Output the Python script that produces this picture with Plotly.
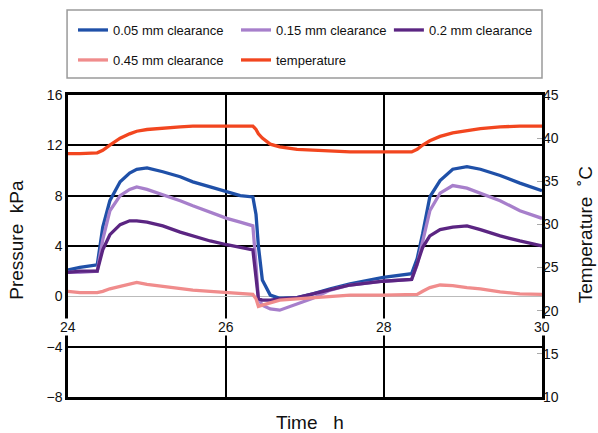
import plotly.graph_objects as go

# Elapsed time (h)
time_h = [24.00, 24.15, 24.37, 24.44, 24.53, 24.66, 24.78, 24.87, 25.00, 25.20,
          25.42, 25.58, 25.80, 26.01, 26.18, 26.34, 26.38, 26.41, 26.46, 26.56,
          26.68, 26.90, 27.10, 27.32, 27.57, 27.99, 28.35, 28.42, 28.49, 28.58,
          28.71, 28.87, 29.05, 29.22, 29.47, 29.72, 30.00]

# Pressure (kPa) for each clearance
p_005 = [2.1, 2.3, 2.5, 5.5, 7.6, 9.1, 9.8, 10.1, 10.2, 9.9,
         9.5, 9.1, 8.7, 8.3, 8.0, 7.9, 6.5, 4.0, 1.3, 0.1,
         -0.15, -0.1, 0.2, 0.6, 1.0, 1.5, 1.8, 3.0, 5.0, 7.9,
         9.2, 10.1, 10.3, 10.1, 9.6, 9.0, 8.4]
p_015 = [1.9, 1.9, 2.0, 4.5, 6.8, 8.0, 8.5, 8.7, 8.5, 8.1,
         7.6, 7.2, 6.7, 6.2, 5.9, 5.6, 2.5, -0.2, -0.7, -1.0,
         -1.1, -0.6, -0.15, 0.5, 0.9, 1.2, 1.35, 2.5, 4.5, 6.8,
         8.2, 8.8, 8.6, 8.2, 7.6, 6.8, 6.2]
p_020 = [1.9, 2.0, 2.0, 3.7, 4.9, 5.7, 6.0, 6.0, 5.9, 5.6,
         5.1, 4.8, 4.4, 4.1, 3.9, 3.7, 1.5, -0.2, -0.3, -0.3,
         -0.2, -0.1, 0.2, 0.5, 0.9, 1.2, 1.35, 2.6, 3.9, 4.8,
         5.3, 5.5, 5.6, 5.3, 4.8, 4.4, 4.0]
p_045 = [0.4, 0.3, 0.3, 0.4, 0.6, 0.8, 1.0, 1.1, 0.95, 0.8,
         0.6, 0.5, 0.4, 0.3, 0.2, 0.15, -0.2, -0.8, -0.7, -0.5,
         -0.3, -0.2, -0.1, 0.0, 0.1, 0.1, 0.1, 0.15, 0.4, 0.7,
         0.9, 0.85, 0.7, 0.6, 0.35, 0.2, 0.15]

# Temperature (deg C)
temp_c = [38.2, 38.2, 38.3, 38.6, 39.2, 40.0, 40.5, 40.8, 41.0, 41.1,
          41.3, 41.4, 41.4, 41.4, 41.4, 41.4, 41.0, 40.5, 40.0, 39.3,
          39.0, 38.7, 38.6, 38.5, 38.4, 38.4, 38.4, 38.7, 39.2, 39.7,
          40.2, 40.6, 40.9, 41.1, 41.3, 41.4, 41.4]

series_names = ["0.05 mm clearance", "0.15 mm clearance", "0.2 mm clearance",
                "0.45 mm clearance", "temperature"]
series_colors = ["#1f50a8", "#a77fcb", "#5b2582", "#f08c8c", "#f2461f"]

x_ticks = [24, 26, 28, 30]

FONT = "Liberation Sans, Arial, sans-serif"

# one legend slot per series: (paper x, paper y) of the entry
legend_ids = ["legend", "legend2", "legend3", "legend4", "legend5"]
legend_slots = [(0.0105, 1.2152), (0.3544, 1.2152), (0.677, 1.2152),
                (0.0105, 1.1159), (0.3544, 1.1159)]

fig = go.Figure()
pressure_sets = [p_005, p_015, p_020, p_045]
for i, vals in enumerate(pressure_sets):
    fig.add_trace(go.Scatter(
        x=time_h, y=vals, mode="lines", name=series_names[i],
        line=dict(color=series_colors[i], width=3.3),
        legend=legend_ids[i],
    ))
fig.add_trace(go.Scatter(
    x=time_h, y=temp_c, mode="lines", name=series_names[4],
    line=dict(color=series_colors[4], width=3.3),
    yaxis="y2", legend=legend_ids[4],
))

# x tick labels sit just under the zero-pressure line
for t in x_ticks:
    fig.add_annotation(x=t, y=-2.4, xref="x", yref="y", text=str(t),
                       showarrow=False, bgcolor="white",
                       font=dict(size=14, color="#111", family=FONT),
                       borderpad=0)

# axis titles
title_font = dict(size=19, color="#111", family=FONT)
fig.add_annotation(x=-0.108, y=0.52, xref="paper", yref="paper",
                   xanchor="center", yanchor="middle",
                   text="Pressure\u00a0\u00a0kPa", textangle=-90, showarrow=False,
                   font=title_font)
fig.add_annotation(x=1.091, y=0.536, xref="paper", yref="paper",
                   xanchor="center", yanchor="middle",
                   text="Temperature\u00a0\u00a0\u02daC", textangle=-90, showarrow=False,
                   font=title_font)
fig.add_annotation(x=0.51, y=-0.086, xref="paper", yref="paper",
                   xanchor="center", yanchor="middle",
                   text="Time\u00a0\u00a0\u00a0h", showarrow=False,
                   font=title_font)

# legend frame
fig.add_shape(type="rect", xref="paper", yref="paper",
              x0=-0.002, x1=1.0, y0=1.056, y1=1.2815,
              line=dict(color="#9a9a9a", width=1.5), fillcolor="rgba(0,0,0,0)")

legend_common = dict(orientation="h", xanchor="left", yanchor="middle",
                     bgcolor="rgba(0,0,0,0)", borderwidth=0,
                     font=dict(size=13, color="#111", family=FONT),
                     itemclick=False, itemdoubleclick=False)
legend_layout = {lid: dict(x=sx, y=sy, **legend_common)
                 for lid, (sx, sy) in zip(legend_ids, legend_slots)}

fig.update_layout(
    width=598, height=433,
    margin=dict(l=68, r=56, t=95, b=36, autoexpand=False),
    paper_bgcolor="white", plot_bgcolor="white",
    font=dict(family=FONT, size=14, color="#111"),
    showlegend=True,
    xaxis=dict(range=[24, 30], tickvals=x_ticks, showticklabels=False,
               showgrid=True, gridcolor="black", gridwidth=2,
               showline=True, linecolor="black", linewidth=2.5, mirror=True,
               ticks="", zeroline=False),
    yaxis=dict(range=[-8, 16], dtick=4, tick0=0,
               showgrid=True, gridcolor="black", gridwidth=2,
               zeroline=True, zerolinecolor="#bbbbbb", zerolinewidth=1,
               showline=True, linecolor="black", linewidth=2.5, mirror=True,
               ticks="", tickfont=dict(size=14)),
    yaxis2=dict(range=[10, 45], dtick=5, tick0=10, overlaying="y", side="right",
                showgrid=False, zeroline=False, showline=False,
                ticks="inside", ticklen=5, tickcolor="#aaaaaa", tickwidth=1,
                tickfont=dict(size=14)),
    **legend_layout,
)

fig.write_html("out.html")
